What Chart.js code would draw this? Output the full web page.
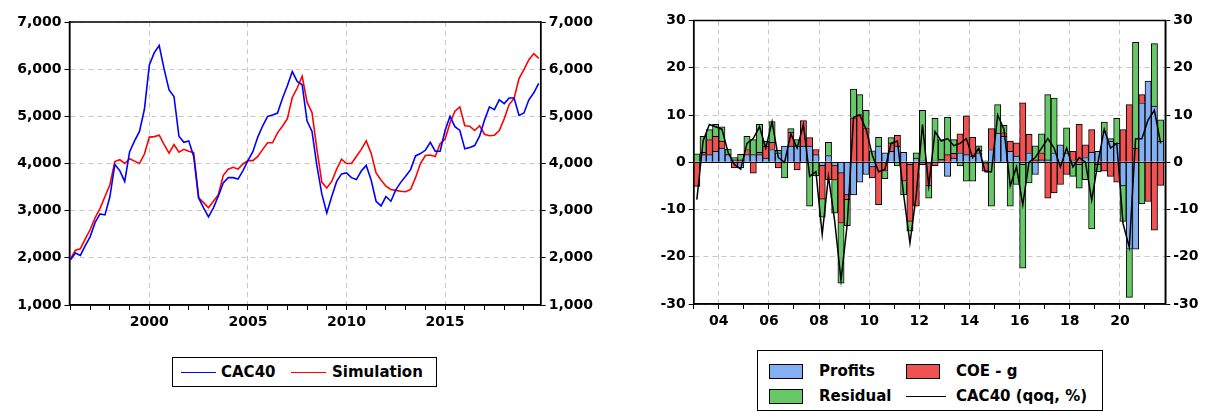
<!DOCTYPE html>
<html>
<head>
<meta charset="utf-8">
<script src="https://cdn.jsdelivr.net/npm/chart.js@4.4.0/dist/chart.umd.min.js"></script>
<style>
  body { margin: 0; background: #fff; width: 1213px; height: 412px; overflow: hidden; position: relative;
         font-family: "DejaVu Sans", Verdana, sans-serif; }
  canvas { position: absolute; top: 0; }
  #levelChart { left: 0; }
  #qoqChart { left: 630px; }
  .legend { position: absolute; border: 1px solid #000; box-sizing: border-box; font-weight: bold; font-size: 15px; color: #000; }
  .legend span { position: absolute; line-height: 16px; white-space: nowrap; }
  .legend i { position: absolute; display: block; }
</style>
</head>
<body>
<canvas id="levelChart" width="600" height="345"></canvas>
<canvas id="qoqChart" width="583" height="345"></canvas>

<div class="legend" style="left:172px;top:357px;width:265px;height:30px;">
  <i style="left:8px;top:14px;width:35px;height:0;border-top:1.5px solid #0000ff;"></i>
  <span style="left:48px;top:6px;">CAC40</span>
  <i style="left:118px;top:14px;width:35px;height:0;border-top:1.5px solid #ff0000;"></i>
  <span style="left:159px;top:6px;">Simulation</span>
</div>

<div class="legend" style="left:757px;top:350px;width:346px;height:61px;">
  <i style="left:11px;top:13px;width:34px;height:15px;background:#82b0f2;border:1px solid #000;box-sizing:border-box;"></i>
  <span style="left:61px;top:12px;">Profits</span>
  <i style="left:148px;top:13px;width:34px;height:15px;background:#f05252;border:1px solid #000;box-sizing:border-box;"></i>
  <span style="left:198px;top:12px;">COE - g</span>
  <i style="left:11px;top:38px;width:34px;height:15px;background:#66c866;border:1px solid #000;box-sizing:border-box;"></i>
  <span style="left:61px;top:37px;">Residual</span>
  <i style="left:148px;top:45px;width:40px;height:0;border-top:1px solid #000;"></i>
  <span style="left:198px;top:37px;">CAC40 (qoq, %)</span>
</div>

<script>
// left panel: quarterly readings, first point 1996Q1
const levelStart = 1996;
const cac40 = [
  1960, 2100, 2050, 2260,  2450, 2750, 2930, 2910,  3300, 3980, 3850, 3620,
  4250, 4480, 4680, 5150,  6090, 6350, 6500, 6000,  5560, 5420, 4580, 4450,
  4480, 4150, 3270, 3060,  2870, 3060, 3310, 3590,  3700, 3700, 3670, 3850,
  4060, 4250, 4560, 4800,  5000, 5030, 5070, 5380,  5650, 5950, 5740, 5670,
  4900, 4680, 3950, 3350,  2950, 3300, 3620, 3780,  3800, 3700, 3660, 3840,
  3960, 3650, 3200, 3100,  3300, 3200, 3440, 3600,  3730, 3870, 4160, 4210,
  4280, 4450, 4260, 4260,  4700, 5000, 4780, 4700,  4310, 4340, 4380, 4580,
  4920, 5200, 5140, 5350,  5270, 5390, 5390, 5020,  5070, 5350, 5500, 5700
];
const simulation = [
  1980, 2160, 2190, 2400,  2600, 2850, 3050, 3300,  3550, 4040, 4080, 4000,
  4100, 4050, 4000, 4200,  4560, 4570, 4600, 4400,  4220, 4400, 4240, 4300,
  4260, 4230, 3270, 3170,  3060, 3200, 3340, 3750,  3880, 3920, 3880, 3990,
  4060, 4060, 4150, 4300,  4440, 4440, 4650, 4790,  4950, 5400, 5600, 5850,
  5300, 5080, 4300, 3600,  3480, 3620, 3880, 4090,  4000, 4000, 4150, 4300,
  4480, 4220, 3800, 3650,  3520, 3450, 3430, 3410,  3400, 3450, 3700, 4000,
  4170, 4180, 4150, 4420,  4520, 4860, 5110, 5200,  4800, 4790, 4700, 4800,
  4620, 4590, 4600, 4700,  4950, 5250, 5380, 5800,  5990, 6200, 6330, 6230
];
const levelTicks = [1000, 2000, 3000, 4000, 5000, 6000, 7000];

// right panel: quarterly contributions, first bar 2003Q1
const qoqStart = 2003;
const profits = [
  0, 1.6, 1.6, 2.3, 3.0, 1.6, 0.5, -1.2,
  1.6, 1.6, 1.6, 0.9, 2.7, 2.0, 3.4, 3.4,
  3.4, 3.4, 3.4, 1.6, -0.7, 1.4, -0.8, -2.3,
  -6.9, -6.9, -4.2, -2.6, -1.0, 3.4, 2.0, 2.3,
  3.4, 2.1, -0.5, 0.9, 0.3, -0.3, 0.3, 0.3,
  -3.0, 0.9, 2.0, 1.6, 1.3, 2.0, -0.3, 2.7,
  6.2, 5.5, 2.3, 1.3, -0.5, 2.0, -2.6, 0.5,
  0.5, 2.0, 3.7, 2.0, 0.3, -0.5, 1.0, 2.1,
  2.3, 6.5, 4.5, 4.0, -5.0, -18.4, -18.4, 12.6,
  17.2, 11.9, 4.5
];
const coeG = [
  -5.1, 0.5, 3.2, 3.2, 1.5, 0.2, -1.2, 0.5,
  1.1, -2.3, 0.5, 2.5, 1.5, -1.2, 0.0, 3.0,
  -1.6, 5.4, 1.8, 1.1, -7.1, -3.7, -3.0, -10.6,
  -1.0, 9.4, 10.1, 7.3, -2.3, -9.0, -1.9, 1.8,
  2.3, -4.0, -12.0, -9.3, -0.5, -4.7, -0.7, 0.3,
  1.6, 1.0, 4.0, 8.2, 4.0, 0.5, -1.6, 4.4,
  0.0, 0.8, 2.2, 2.8, 12.6, 3.9, 0.5, 1.5,
  -7.6, -6.5, -4.7, -2.6, 2.0, 8.0, 2.7, 4.8,
  -0.5, -1.9, -3.0, -4.2, 6.9, 12.2, 3.0, 1.7,
  -8.3, -14.4, -4.9
];
const residual = [
  1.8, 3.4, 2.1, 2.5, 3.0, 1.0, 0.5, 1.2,
  2.8, 3.2, 5.9, 1.1, 4.4, 0.5, -3.3, 0.7,
  1.4, 0.0, -9.3, -2.9, -3.8, 2.8, -7.0, -12.7,
  -5.5, 6.1, 4.2, 3.7, 2.4, 1.9, -1.6, 1.1,
  -0.8, -2.9, -2.1, 1.1, 10.7, -2.6, 9.0, 4.2,
  7.9, 2.9, -0.8, -4.0, -4.0, 1.0, 0.3, -9.3,
  6.0, 1.5, -9.3, -4.7, -21.9, -4.4, 3.0, 4.0,
  13.8, 11.6, 0.0, 5.3, -3.0, -5.0, -3.7, -14.1,
  -1.5, 2.0, 0.5, 5.3, -7.5, -10.2, 22.4, -8.8,
  0.0, 13.2, 4.5
];
const cacQoq = [
  -7.9, 4.5, 8.0, 7.5, 7.0, 2.0, -0.5, -1.5,
  4.0, 5.0, 7.5, 3.0, 8.6, 1.0, 0.0, 6.0,
  3.0, 8.0, -3.0, -2.0, -15.3, -3.0, -12.5, -25.0,
  -13.0, 9.5, 10.0, 7.0, 1.5, -2.0, -1.5, 4.0,
  4.5, -6.9, -17.1, -7.0, 8.0, -5.0, 6.5, 4.5,
  5.0, 3.5, 4.0, 5.0, 1.0, 3.0, -2.0, -2.0,
  10.0, 7.0, -5.0, -1.0, -9.0, 0.0, 1.0, 3.0,
  5.0, 3.0, -1.0, 3.0, -1.0, 1.0, 0.0, -8.0,
  0.0, 7.0, 3.0, 4.0, -13.0, -18.0, 5.0, 5.0,
  9.0, 11.0, 4.0
];

const tickFont = { family: '"DejaVu Sans", Verdana, sans-serif', size: 14, weight: 'bold' };
const gridGrey = '#c8c8c8';

// black frame around the plot area
const framePlugin = {
  id: 'frame',
  afterDraw(chart) {
    const a = chart.chartArea, ctx = chart.ctx;
    ctx.save();
    ctx.strokeStyle = '#000';
    ctx.lineWidth = 1.5;
    ctx.strokeRect(a.left, a.top, a.right - a.left, a.bottom - a.top);
    ctx.restore();
  }
};

const quarterly = (arr, start) => arr.map((v, i) => ({ x: start + i / 4, y: v }));
const quarterMid = (arr, start) => arr.map((v, i) => ({ x: start + (i + 0.5) / 4, y: v }));

// -- Left: CAC40 vs simulation --
new Chart(document.getElementById('levelChart'), {
  type: 'line',
  data: {
    datasets: [
      { label: 'CAC40', data: quarterly(cac40, levelStart), borderColor: '#0000ff', borderWidth: 1.6, pointRadius: 0, tension: 0 },
      { label: 'Simulation', data: quarterly(simulation, levelStart), borderColor: '#ff0000', borderWidth: 1.6, pointRadius: 0, tension: 0 }
    ]
  },
  options: {
    responsive: false,
    animation: false,
    layout: { padding: { top: 22, left: 0, right: 0, bottom: 0 } },
    plugins: { legend: { display: false }, tooltip: { enabled: false } },
    scales: {
      x: {
        type: 'linear', min: 1995.95, max: 2019.85,
        afterFit: s => { s.height = 40; },
        ticks: { stepSize: 1, includeBounds: false, autoSkip: false, maxRotation: 0, color: '#000', font: tickFont, padding: 4,
                 callback: v => (v % 5 === 0 ? String(v) : '') },
        grid: { color: c => (c.tick && c.tick.value % 5 === 0 ? gridGrey : 'rgba(0,0,0,0)'), tickColor: '#000', tickLength: 5, lineWidth: 1 },
        border: { color: '#000', width: 1.5, dash: [5, 4] }
      },
      y: {
        position: 'left', min: 1000, max: 7000,
        afterFit: s => { s.width = 69.5; },
        afterBuildTicks: s => { s.ticks = levelTicks.map(v => ({ value: v })); },
        ticks: { color: '#000', font: tickFont, padding: 3, callback: v => v.toLocaleString('en-US') },
        grid: { color: gridGrey, tickColor: '#000', tickLength: 5 },
        border: { color: '#000', width: 1.5, dash: [5, 4] }
      },
      y1: {
        position: 'right', min: 1000, max: 7000,
        afterFit: s => { s.width = 59.3; },
        afterBuildTicks: s => { s.ticks = levelTicks.map(v => ({ value: v })); },
        ticks: { color: '#000', font: tickFont, padding: 3, callback: v => v.toLocaleString('en-US') },
        grid: { drawOnChartArea: false, tickColor: '#000', tickLength: 5 },
        border: { color: '#000', width: 1.5 }
      }
    }
  },
  plugins: [framePlugin]
});

// -- Right: stacked contributions to CAC40 qoq --
const barStyle = { borderColor: '#000', borderWidth: 1, barPercentage: 1, categoryPercentage: 1, order: 1, stack: 'contrib' };
new Chart(document.getElementById('qoqChart'), {
  type: 'bar',
  data: {
    datasets: [
      Object.assign({ label: 'Profits', data: quarterMid(profits, qoqStart), backgroundColor: '#82b0f2' }, barStyle),
      Object.assign({ label: 'COE - g', data: quarterMid(coeG, qoqStart), backgroundColor: '#f05252' }, barStyle),
      Object.assign({ label: 'Residual', data: quarterMid(residual, qoqStart), backgroundColor: '#66c866' }, barStyle),
      { type: 'line', label: 'CAC40 (qoq, %)', data: quarterMid(cacQoq, qoqStart), borderColor: '#000', borderWidth: 1.5,
        pointRadius: 0, tension: 0, order: 0, stack: 'line' }
    ]
  },
  options: {
    responsive: false,
    animation: false,
    layout: { padding: { top: 20.5, left: 0, right: 0, bottom: 0 } },
    plugins: { legend: { display: false }, tooltip: { enabled: false } },
    scales: {
      x: {
        type: 'linear', min: 2003, max: 2021.81, stacked: true, offset: false,
        afterFit: s => { s.height = 41; },
        ticks: { stepSize: 1, includeBounds: false, autoSkip: false, maxRotation: 0, color: '#000', font: tickFont, padding: 4,
                 callback: v => (v % 2 === 0 ? String(v).slice(2) : '') },
        grid: { offset: false, color: c => (c.tick && c.tick.value % 2 === 0 ? gridGrey : 'rgba(0,0,0,0)'), tickColor: '#000', tickLength: 5 },
        border: { color: '#000', width: 1.5, dash: [5, 4] }
      },
      y: {
        position: 'left', min: -30, max: 30, stacked: true,
        afterFit: s => { s.width = 63.7; },
        ticks: { stepSize: 10, color: '#000', font: tickFont, padding: 3 },
        grid: { color: c => (c.tick && c.tick.value === 0 ? '#000' : gridGrey), tickColor: '#000', tickLength: 5 },
        border: { color: '#000', width: 1.5, dash: c => (c.tick && c.tick.value === 0 ? [] : [5, 4]) }
      },
      y1: {
        position: 'right', min: -30, max: 30,
        afterFit: s => { s.width = 47.7; },
        ticks: { stepSize: 10, color: '#000', font: tickFont, padding: 3 },
        grid: { drawOnChartArea: false, tickColor: '#000', tickLength: 5 },
        border: { color: '#000', width: 1.5 }
      }
    }
  },
  plugins: [framePlugin]
});
</script>
</body>
</html>
